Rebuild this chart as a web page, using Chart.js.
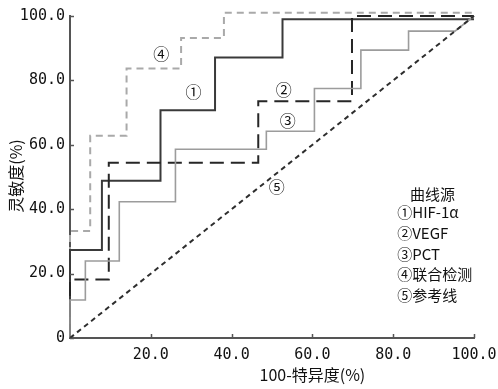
<!DOCTYPE html>
<html>
<head>
<meta charset="utf-8">
<script src="https://cdn.jsdelivr.net/npm/chart.js@4.4.1/dist/chart.umd.min.js"></script>
<style>
  html, body { margin: 0; padding: 0; background: #fff; }
  #wrap { width: 498px; height: 389px; }
</style>
</head>
<body>
<div id="wrap"><canvas id="roc"></canvas></div>
<script>
// ROC vertices (x = 100 - specificity, y = sensitivity)
const hifX = [0, 0, 7.9, 7.9, 22.4, 22.4, 35.9, 35.9, 52.6, 52.6, 100];
const hifY = [0, 27.3, 27.3, 48.8, 48.8, 70.7, 70.7, 87.1, 87.1, 99, 99];

const vegfX = [0, 0, 9.6, 9.6, 46.6, 46.6, 69.8, 69.8, 100];
const vegfY = [0, 18.2, 18.2, 54.4, 54.4, 73.5, 73.5, 100, 100];

const pctX = [0, 0, 3.8, 3.8, 12.2, 12.2, 26.1, 26.1, 48.6, 48.6, 60.5, 60.5, 72.0, 72.0, 83.8, 83.8, 95.3, 100];
const pctY = [0, 11.8, 11.8, 23.9, 23.9, 42.3, 42.3, 58.6, 58.6, 64.2, 64.2, 77.5, 77.5, 89.4, 89.4, 95.3, 95.3, 100];

const comboX = [0, 0, 5.0, 5.0, 14.0, 14.0, 27.5, 27.5, 38.1, 38.1, 100];
const comboY = [0, 33.2, 33.2, 62.8, 62.8, 83.7, 83.7, 93.2, 93.2, 101, 101];

const refX = [0, 100];
const refY = [0, 100];

const xTicks = [20, 40, 60, 80, 100];
const yTicks = [0, 20, 40, 60, 80, 100];

const legendTitle = "曲线源";
const legendItems = ["①HIF-1α", "②VEGF", "③PCT", "④联合检测", "⑤参考线"];
const xTitle = "100-特异度(%)";
const yTitle = "灵敏度(%)";

const cjk = "'Noto Sans CJK SC', 'Noto Sans', sans-serif";
const mono = "'DejaVu Sans Mono', monospace";

function toPoints(xs, ys) {
  return xs.map((x, i) => ({ x, y: ys[i] }));
}

function fmtTick(v) {
  return v === 0 ? "0" : v.toFixed(1);
}

// curve numbers placed in data coordinates
const curveMarks = [
  { text: "①", x: 30.6, y: 76.3 },
  { text: "②", x: 52.9, y: 77.0 },
  { text: "③", x: 53.9, y: 67.3 },
  { text: "④", x: 22.6, y: 88.1 },
  { text: "⑤", x: 51.2, y: 46.9 }
];

const decorations = {
  id: "decorations",
  afterDraw(chart) {
    const { ctx, scales: { x, y }, chartArea } = chart;
    ctx.save();

    // inward tick marks
    ctx.strokeStyle = "#555";
    ctx.lineWidth = 1.5;
    yTicks.forEach((v) => {
      const py = Math.round(y.getPixelForValue(v)) + 0.5;
      ctx.beginPath();
      ctx.moveTo(chartArea.left, py);
      ctx.lineTo(chartArea.left + 4, py);
      ctx.stroke();
    });
    xTicks.forEach((v) => {
      const px = Math.round(x.getPixelForValue(v)) + 0.5;
      ctx.beginPath();
      ctx.moveTo(px, chartArea.bottom);
      ctx.lineTo(px, chartArea.bottom - 4);
      ctx.stroke();
    });

    ctx.fillStyle = "#111";
    ctx.textBaseline = "middle";

    ctx.font = "16px " + cjk;
    ctx.textAlign = "center";
    curveMarks.forEach((m) => {
      ctx.fillText(m.text, x.getPixelForValue(m.x), y.getPixelForValue(m.y));
    });

    // legend block
    ctx.font = "15px " + cjk;
    ctx.fillText(legendTitle, x.getPixelForValue(89.7), y.getPixelForValue(44.7));
    ctx.textAlign = "left";
    const legendY = [39.1, 32.6, 26.1, 19.9, 13.3];
    legendItems.forEach((t, i) => {
      ctx.fillText(t, x.getPixelForValue(81.0), y.getPixelForValue(legendY[i]));
    });

    // axis titles
    ctx.textAlign = "center";
    ctx.font = "16px " + cjk;
    ctx.fillText(xTitle, x.getPixelForValue(60), 375);
    ctx.translate(16, 176);
    ctx.rotate(-Math.PI / 2);
    ctx.fillText(yTitle, 0, 0);

    ctx.restore();
  }
};

new Chart(document.getElementById("roc"), {
  type: "line",
  data: {
    datasets: [
      {
        label: "参考线",
        data: toPoints(refX, refY),
        borderColor: "#2e2e2e",
        borderWidth: 2,
        borderDash: [5, 4]
      },
      {
        label: "PCT",
        data: toPoints(pctX, pctY),
        borderColor: "#9c9c9c",
        borderWidth: 1.6
      },
      {
        label: "VEGF",
        data: toPoints(vegfX, vegfY),
        borderColor: "#262626",
        borderWidth: 2,
        borderDash: [14, 7]
      },
      {
        label: "HIF-1α",
        data: toPoints(hifX, hifY),
        borderColor: "#3a3a3a",
        borderWidth: 2
      },
      {
        label: "联合检测",
        data: toPoints(comboX, comboY),
        borderColor: "#a9a9a9",
        borderWidth: 2,
        borderDash: [7, 5]
      }
    ]
  },
  options: {
    responsive: true,
    maintainAspectRatio: false,
    animation: false,
    clip: false,
    layout: { padding: { top: 16, right: 24, bottom: 0, left: 0 } },
    elements: {
      point: { radius: 0 },
      line: { tension: 0, fill: false, borderCapStyle: "butt" }
    },
    plugins: {
      legend: { display: false },
      tooltip: { enabled: false }
    },
    scales: {
      x: {
        type: "linear",
        min: 0,
        max: 100,
        afterFit(scale) {
          scale.height = 51;
          scale.paddingLeft = 0;
          scale.paddingRight = 0;
        },
        afterBuildTicks(scale) { scale.ticks = xTicks.map((v) => ({ value: v })); },
        grid: { display: false, drawTicks: false },
        border: { display: true, color: "#555", width: 2 },
        ticks: {
          padding: 8,
          color: "#111",
          font: { family: mono, size: 15 },
          callback: fmtTick
        }
      },
      y: {
        type: "linear",
        min: 0,
        max: 100,
        afterFit(scale) {
          scale.width = 70;
          scale.paddingTop = 0;
          scale.paddingBottom = 0;
        },
        afterBuildTicks(scale) { scale.ticks = yTicks.map((v) => ({ value: v })); },
        grid: { display: false, drawTicks: false },
        border: { display: true, color: "#555", width: 2 },
        ticks: {
          padding: 5,
          color: "#111",
          font: { family: mono, size: 15 },
          callback: fmtTick
        }
      }
    }
  },
  plugins: [decorations]
});
</script>
</body>
</html>
